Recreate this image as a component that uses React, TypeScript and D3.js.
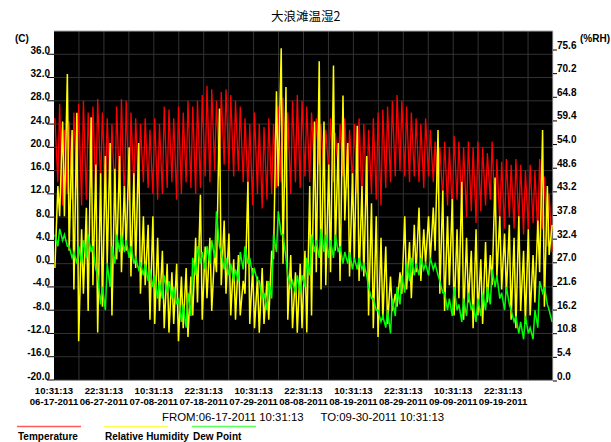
import React from "react";
import * as d3 from "d3";

// daily extremes (day 0 = 06-17-2011 10:31:13)
const tempMax = [
  25, 27.5, 23, 24.5, 26, 27.5, 28, 26, 27, 28.3,
  26, 25, 24, 27, 28.3, 28, 26, 25, 24, 25,
  23, 25, 24, 27, 26.5, 25, 27, 26, 28, 27,
  28, 29, 30.6, 30, 28, 29.5, 30, 29, 28, 27,
  25, 24, 26, 24, 23.5, 25, 24, 27, 28.5, 26,
  28, 29, 28, 27, 26, 25, 24, 23, 25, 22.5,
  24, 25, 23, 24, 25, 24, 23, 25, 26, 26.5,
  27, 28, 29, 28, 27, 26, 25, 24, 25, 23,
  21, 20, 21, 20, 22, 21, 20, 21, 20, 21,
  20, 19, 21, 18, 17.5, 18, 17, 18, 17, 16,
  17, 16, 18, 15, 12,
];
const tempMin = [
  14, 10, 12, 11, 13, 10, 11, 13, 12, 14,
  12, 13, 11, 12, 10, 11, 13, 12, 14, 13,
  12, 11, 12, 13, 14, 11, 12, 14, 13, 12,
  13, 15, 14, 16, 15, 17, 16, 15, 16, 14,
  13, 10, 12, 9.5, 11, 12, 13, 14, 13, 12,
  14, 13, 15, 14, 16, 17, 15, 16, 14, 16,
  15, 13, 14, 12, 11, 10, 12, 11, 10, 13,
  14, 15, 16, 15, 14, 15, 14, 13, 15, 14,
  12, 11, 10, 9, 11, 10, 8, 9, 7, 9,
  10, 11, 8, 7, 6, 8, 6, 7, 5, 6,
  7, 5, 6, 3, 2,
];
const rhHigh = [
  45, 60, 71, 58, 62, 35, 40, 61, 50, 48,
  52, 55, 49, 52, 45, 54, 48, 55, 38, 36,
  38, 33, 30, 27, 25, 27, 24, 26, 24, 33,
  43, 31, 33, 30, 63, 37, 34, 28, 29, 23,
  46, 26, 24, 26, 23, 30, 67, 77, 68, 29,
  25, 27, 30, 45, 60, 74, 60, 50, 73, 55,
  66, 55, 48, 59, 45, 52, 41, 38, 33, 31,
  24, 20, 25, 38, 32, 36, 40, 35, 38, 40,
  58, 44, 38, 42, 35, 46, 33, 30, 35, 28,
  32, 29, 47, 38, 34, 36, 33, 38, 30, 35,
  29, 37, 58, 45, 36,
];
const rhLow = [
  26, 38, 38, 30, 21, 9, 20, 16, 22, 11,
  17, 27, 15, 28, 25, 30, 24, 26, 20, 22,
  14, 13, 16, 12, 11, 13, 9, 12, 10, 15,
  18, 14, 19, 16, 25, 22, 20, 15, 14, 15,
  20, 13, 12, 11, 13, 14, 28, 45, 27, 14,
  12, 11, 12, 11, 15, 25, 21, 22, 25, 30,
  23, 37, 24, 28, 23, 24, 15, 12, 10, 14,
  13, 16, 17, 20, 21, 19, 25, 23, 27, 28,
  30, 20, 16, 22, 15, 19, 14, 18, 12, 15,
  13, 18, 22, 24, 21, 20, 14, 12, 16, 13,
  15, 18, 25, 17, 29,
];
const dewHigh = [
  5, 6, 5, 3, 2, 3, 4, 5, 3, -2,
  -4, 0, 3, 5, 5, 4, 3, 1, 0, 0,
  -1, -2, -3, -2, -3, -4, -6, -7, -5, 1,
  3, 2, 3, 4, 9, 2, 1, 0, -1, 2,
  3, 1, -1, -3, -5, -3, 5, 9, 5, -2,
  -3, -2, -2, 1, 5, 4, 6, 5, 4, 5,
  3, 2, 2, 1, 1, 0, -4, -6, -8, -9,
  -8, -6, -4, -2, 0, 1, 0, 1, 0, 1,
  0, -3, -5, -6, -4, -7, -6, -5, -7, -6,
  -5, -4, -1, -2, -5, -4, -8, -9, -10, -9,
  -11, -8, -3, -4, -8,
];
const dewLow = [
  3, 4, 3, 1, 0, 0, 1, 2, -1, -7,
  -8, -4, 0, 2, 2, 1, 0, -1, -2, -3,
  -4, -6, -6, -5, -6, -7, -10, -11, -9, -2,
  0, -1, 0, 1, 3, -1, -2, -3, -3, -1,
  0, -2, -3, -6, -8, -6, 2, 5, 1, -4,
  -5, -5, -4, -2, 2, 1, 2, 1, 1, 2,
  0, 0, -1, -1, -1, -2, -6, -8, -10, -11,
  -12, -9, -7, -5, -3, -2, -2, -1, -2, -1,
  -2, -5, -8, -9, -8, -10, -9, -8, -10, -9,
  -8, -7, -4, -6, -8, -7, -10, -12, -13, -12,
  -13, -11, -5, -7, -10,
];

const tempTicks = [-20, -16, -12, -8, -4, 0, 4, 8, 12, 16, 20, 24, 28, 32, 36];
const rhTicks = [0, 5.4, 10.8, 16.2, 21.6, 27.0, 32.4, 37.8, 43.2, 48.6, 54.0, 59.4, 64.8, 70.2, 75.6];
const xTimeLabels = ["10:31:13", "22:31:13", "10:31:13", "22:31:13", "10:31:13", "22:31:13", "10:31:13", "22:31:13", "10:31:13", "22:31:13"];
const xDateLabels = ["06-17-2011", "06-27-2011", "07-08-2011", "07-18-2011", "07-29-2011", "08-08-2011", "08-19-2011", "08-29-2011", "09-09-2011", "09-19-2011"];
const legendItems = ["Temperature", "Relative Humidity", "Dew Point"];

const FONT = "'Liberation Sans', Arial, sans-serif";

export default function App() {
  const left = 54, right = 553, top = 31, bottom = 380;
  const totalDays = 105;
  const x = d3.scaleLinear().domain([0, totalDays]).range([left, right]);
  const yT = d3.scaleLinear().domain([-20, 40]).range([bottom, top]);
  const yRH = d3.scaleLinear().domain([0, 81]).range([bottom, top]);
  const yRHLabel = d3.scaleLinear().domain([0, 75.6]).range([379.5, 48.5]);

  // max in the afternoon, min before dawn
  const pairs = (hi: number[], lo: number[], hiFirst: boolean) =>
    hi.flatMap((v, i) =>
      hiFirst ? [[i + 0.19, v], [i + 0.81, lo[i]]] : [[i + 0.19, lo[i]], [i + 0.81, v]]
    ) as [number, number][];

  const tLine = d3.line<[number, number]>().x((d) => x(d[0])).y((d) => yT(d[1]));
  const rLine = d3.line<[number, number]>().x((d) => x(d[0])).y((d) => yRH(d[1]));

  const tempPath = tLine(pairs(tempMax, tempMin, true)) || "";
  const rhPath = rLine(pairs(rhHigh, rhLow, false)) || "";
  const dewPath = tLine(pairs(dewHigh, dewLow, true)) || "";

  const vGrid = d3.range(1, 20).map((k) => x((k * totalDays) / 20));
  const legendColors = ["#ff5a5a", "#ffff50", "#5aff5a"];
  const legendX = [17, 104, 192];

  return (
    <div style={{ position: "absolute", left: 0, top: 0, background: "#fff" }}>
      <svg width={611} height={442} style={{ display: "block", fontFamily: FONT }}>
        <rect width={611} height={442} fill="#fff" />
        <text x={271} y={20.5} fontSize={12.5} fontFamily="'Noto Sans CJK SC', sans-serif" fill="#000">
          大浪滩温湿2
        </text>

        <rect x={left} y={top} width={right - left} height={bottom - top} fill="#000" />
        {tempTicks.map((t) => (
          <line key={"h" + t} x1={left} x2={right} y1={yT(t)} y2={yT(t)} stroke="#333" strokeWidth={1} />
        ))}
        {vGrid.map((gx, i) => (
          <line key={"v" + i} x1={gx} x2={gx} y1={top} y2={bottom} stroke="#333" strokeWidth={1} />
        ))}
        <line x1={left} x2={right} y1={top} y2={top} stroke="#aaa" strokeWidth={1.2} />
        <line x1={right} x2={right} y1={top} y2={bottom} stroke="#ddd" strokeWidth={1} />

        <path d={tempPath} fill="none" stroke="#ff0000" strokeWidth={1.3} />
        <path d={rhPath} fill="none" stroke="#ffff00" strokeWidth={1.5} />
        <path d={dewPath} fill="none" stroke="#00ff00" strokeWidth={1.5} />

        {/* left axis */}
        <text x={15} y={41.5} fontSize={10} fontWeight="bold">(C)</text>
        {tempTicks.map((t) => (
          <g key={"lt" + t}>
            <line x1={47} x2={left} y1={yT(t)} y2={yT(t)} stroke="#000" />
            <text x={50} y={yT(t) - 0.5} fontSize={10} fontWeight="bold" textAnchor="end">
              {t.toFixed(1)}
            </text>
          </g>
        ))}

        {/* right axis */}
        <text x={580} y={41.5} fontSize={10} fontWeight="bold">(%RH)</text>
        {rhTicks.map((v) => (
          <g key={"rt" + v}>
            <line x1={right} x2={557} y1={yRHLabel(v) + 1.5} y2={yRHLabel(v) + 1.5} stroke="#000" />
            <text x={557} y={yRHLabel(v)} fontSize={10} fontWeight="bold">
              {v.toFixed(1)}
            </text>
          </g>
        ))}

        {/* x axis */}
        {xTimeLabels.map((s, i) => (
          <g key={"xt" + i} fontSize={9.6} fontWeight="bold" textAnchor="middle">
            <text x={x(i * 10.5)} y={394}>{s}</text>
            <text x={x(i * 10.5)} y={404.5}>{xDateLabels[i]}</text>
          </g>
        ))}

        <text x={162} y={420.8} fontSize={11.4}>FROM:06-17-2011 10:31:13</text>
        <text x={320.5} y={420.8} fontSize={11.4}>TO:09-30-2011 10:31:13</text>

        {legendItems.map((s, i) => (
          <g key={s}>
            <line x1={legendX[i]} x2={legendX[i] + 64} y1={426.5} y2={426.5} stroke={legendColors[i]} strokeWidth={1.5} />
            <text x={legendX[i] + 1} y={439.5} fontSize={10} fontWeight="bold">{s}</text>
          </g>
        ))}
      </svg>
    </div>
  );
}
